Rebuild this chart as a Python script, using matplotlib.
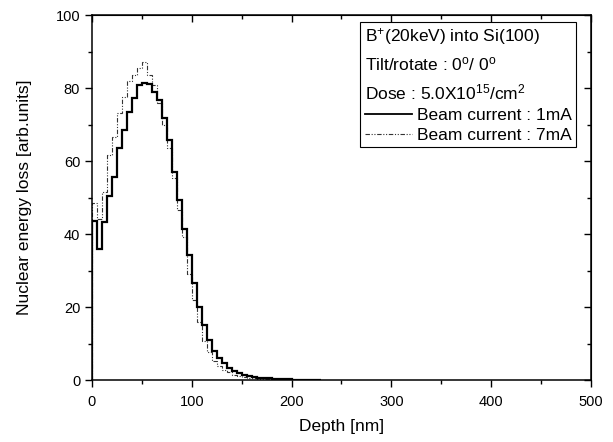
import numpy as np
import matplotlib
matplotlib.use("Agg")
import matplotlib.pyplot as plt
from matplotlib.lines import Line2D

plt.rcParams['font.family'] = ['Liberation Sans', 'DejaVu Sans']
plt.rcParams['mathtext.fontset'] = 'custom'
plt.rcParams['mathtext.rm'] = 'Liberation Sans'
plt.rcParams['mathtext.it'] = 'Liberation Sans'

bin_width = 5.0
current_1mA = [43.6, 35.8, 43.3, 50.5, 55.7, 63.5, 68.5, 73.5, 77.2, 80.8,
               81.3, 81.0, 78.8, 76.7, 71.7, 65.8, 57.1, 49.2, 41.4, 34.2,
               26.5, 19.9, 15.1, 11.0, 8.1, 6.1, 4.6, 3.4, 2.6, 2.0,
               1.5, 1.2, 0.9, 0.7, 0.55, 0.45, 0.35, 0.28, 0.22, 0.17,
               0.13, 0.10, 0.08, 0.06, 0.05, 0.04]
current_7mA = [48.4, 44.1, 51.6, 61.6, 66.7, 73.2, 77.6, 81.8, 83.6, 85.4,
               87.2, 83.6, 80.8, 76.0, 70.0, 63.5, 55.3, 46.6, 39.3, 29.0,
               22.0, 15.8, 10.8, 7.6, 5.2, 3.9, 2.9, 2.1, 1.5, 1.1,
               0.8, 0.6, 0.45, 0.33, 0.25, 0.18, 0.13, 0.09, 0.06, 0.04]

x_ticks = [0, 100, 200, 300, 400, 500]
y_ticks = [0, 20, 40, 60, 80, 100]

fig = plt.figure(figsize=(6.13, 4.42), dpi=100)
ax = fig.add_axes([0.150, 0.140, 0.814, 0.826])

edges1 = np.arange(len(current_1mA) + 1) * bin_width
edges7 = np.arange(len(current_7mA) + 1) * bin_width

dash = (0, (4, 1.5, 1, 1.5, 1, 1.5))
ax.stairs(current_7mA, edges7, baseline=0, color='#333333', lw=0.8, linestyle=dash)
ax.stairs(current_1mA, edges1, baseline=0, color='black', lw=1.6)

ax.set_xlim(0, 500)
ax.set_ylim(0, 100)
ax.set_xticks(x_ticks)
ax.set_yticks(y_ticks)
ax.set_xticks(np.arange(50, 500, 100), minor=True)
ax.set_yticks(np.arange(10, 100, 20), minor=True)
ax.tick_params(direction='out', length=5, width=1, labelsize=10.5, colors='black')
ax.tick_params(axis='x', pad=6)
ax.tick_params(which='minor', direction='out', length=3, width=1)
for s in ax.spines.values():
    s.set_linewidth(1.1)

sx = ax.secondary_xaxis('top')
sx.set_xticks(x_ticks)
sx.set_xticks(np.arange(50, 500, 100), minor=True)
sx.tick_params(direction='in', length=5, width=1, labeltop=False)
sx.tick_params(which='minor', direction='in', length=3, width=1)
sy = ax.secondary_yaxis('right')
sy.set_yticks(y_ticks)
sy.set_yticks(np.arange(10, 100, 20), minor=True)
sy.tick_params(direction='in', length=5, width=1, labelright=False)
sy.tick_params(which='minor', direction='in', length=3, width=1)

ax.set_xlabel('Depth [nm]', fontsize=12.5, labelpad=7)
ax.set_ylabel('Nuclear energy loss [arb.units]', fontsize=12.5, labelpad=17)

handles = [Line2D([], [], color='black', lw=1.3),
           Line2D([], [], color='#333333', lw=0.8, linestyle=dash)]
labels = ['Beam current : 1mA', 'Beam current : 7mA']
title = ('B$^{+}$(20keV) into Si(100)\n'
         'Tilt/rotate : 0$^{o}$/ 0$^{o}$\n'
         'Dose : 5.0X10$^{15}$/cm$^{2}$')
leg = ax.legend(handles, labels, title=title, alignment='left', loc='upper right',
                bbox_to_anchor=(0.970, 0.982), fontsize=12.5, title_fontsize=12.5,
                frameon=True, fancybox=False, edgecolor='black', framealpha=1,
                handlelength=2.7, handletextpad=0.3, borderpad=0.25,
                labelspacing=0.3, borderaxespad=0)
leg.get_frame().set_linewidth(0.8)
leg.get_title().set_linespacing(1.55)

fig.savefig('out.png', dpi=100)
